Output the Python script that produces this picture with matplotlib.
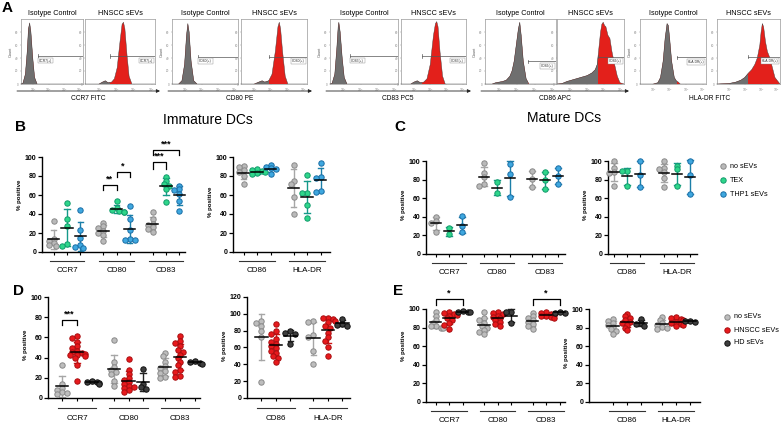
import numpy as np
import matplotlib
matplotlib.use("Agg")
import matplotlib.pyplot as plt
from matplotlib.patches import Rectangle
from matplotlib import transforms

plt.rcParams['font.family'] = ['Liberation Sans', 'DejaVu Sans']

# ---------------- Panel A data (flow cytometry histograms, fraction of axis) ----------------
A_markers = ["CCR7", "CD80", "CD83", "CD86", "HLA-DR"]
A_channels = ["CCR7 FITC", "CD80 PE", "CD83 PC5", "CD86 APC", "HLA-DR FITC"]

iso_x = [
    [0.0, 0.03, 0.07, 0.10, 0.12, 0.14, 0.16, 0.19, 0.22, 0.26, 1.0],
    [0.0, 0.10, 0.15, 0.19, 0.22, 0.24, 0.26, 0.29, 0.33, 0.38, 1.0],
    [0.0, 0.03, 0.07, 0.10, 0.12, 0.13, 0.15, 0.18, 0.21, 0.25, 1.0],
    [0.0, 0.10, 0.15, 0.20, 0.25, 0.30, 0.35, 0.38, 0.41, 0.44, 0.47, 0.49, 0.51, 0.54, 0.58, 0.62, 1.0],
    [0.0, 0.20, 0.27, 0.31, 0.35, 0.38, 0.41, 0.43, 0.45, 0.48, 0.52, 0.55, 0.58, 0.61, 1.0],
]
iso_y = [
    [0, 0.01, 0.15, 0.50, 0.85, 0.94, 0.80, 0.40, 0.10, 0.0, 0],
    [0, 0.0, 0.05, 0.30, 0.75, 0.93, 0.80, 0.35, 0.05, 0.0, 0],
    [0, 0.01, 0.15, 0.55, 0.88, 0.95, 0.80, 0.40, 0.10, 0.0, 0],
    [0, 0.0, 0.02, 0.03, 0.04, 0.06, 0.12, 0.20, 0.35, 0.60, 0.85, 0.95, 0.75, 0.35, 0.08, 0.0, 0],
    [0, 0.0, 0.02, 0.10, 0.35, 0.70, 0.93, 0.90, 0.70, 0.35, 0.10, 0.05, 0.03, 0.0, 0],
]
sev_x = [
    [0.0, 0.20, 0.25, 0.29, 0.33, 0.38, 0.42, 0.46, 0.50, 0.53, 0.55, 0.57, 0.60, 0.63, 0.67, 1.0],
    [0.0, 0.20, 0.27, 0.32, 0.36, 0.42, 0.47, 0.52, 0.56, 0.58, 0.60, 0.63, 0.67, 0.71, 1.0],
    [0.0, 0.15, 0.20, 0.25, 0.30, 0.35, 0.40, 0.45, 0.50, 0.53, 0.55, 0.57, 0.60, 0.64, 0.68, 1.0],
    [0.0, 0.08, 0.15, 0.25, 0.35, 0.45, 0.52, 0.57, 0.60, 0.62, 0.65, 0.67, 0.69, 0.71, 0.73, 0.76, 0.79, 0.82, 0.86, 0.90, 0.94, 1.0],
    [0.0, 0.20, 0.30, 0.38, 0.44, 0.50, 0.55, 0.60, 0.64, 0.68, 0.70, 0.72, 0.74, 0.77, 0.80, 0.84, 0.88, 0.92, 0.96, 1.0],
]
sev_y = [
    [0, 0.0, 0.03, 0.05, 0.02, 0.03, 0.08, 0.25, 0.65, 0.92, 0.95, 0.85, 0.45, 0.12, 0.0, 0],
    [0, 0.0, 0.03, 0.05, 0.03, 0.05, 0.15, 0.50, 0.88, 0.95, 0.85, 0.50, 0.12, 0.0, 0],
    [0, 0.0, 0.03, 0.05, 0.02, 0.03, 0.08, 0.30, 0.75, 0.93, 0.96, 0.88, 0.50, 0.12, 0.0, 0],
    [0, 0.01, 0.04, 0.07, 0.10, 0.13, 0.17, 0.22, 0.30, 0.50, 0.80, 0.92, 0.95, 0.90, 0.88, 0.75, 0.70, 0.50, 0.30, 0.12, 0.02, 0],
    [0, 0.01, 0.03, 0.06, 0.10, 0.17, 0.22, 0.30, 0.40, 0.60, 0.80, 0.93, 0.88, 0.65, 0.50, 0.40, 0.25, 0.10, 0.05, 0],
]
iso_gate = [0.27, 0.39, 0.29, 0.60, 0.56]
sev_gate = [0.36, 0.42, 0.32, 0.61, 0.49]
iso_gate_lvl = [0.43, 0.42, 0.43, 0.35, 0.41]
sev_gate_lvl = [0.43, 0.42, 0.43, 0.42, 0.42]
iso_label_left = [True, True, True, False, False]

# ---------------- Panels B/C data (% positive) ----------------
imm_groups = ["no sEVs", "TEX", "THP1 sEVs"]
imm_CCR7 = [[33, 14, 12, 9, 7, 6], [52, 35, 27, 8, 6], [44, 23, 15, 7, 5, 4]]
imm_CD80 = [[31, 27, 25, 22, 20, 18, 12], [54, 46, 44, 43, 42, 42], [48, 35, 23, 14, 13, 13]]
imm_CD83 = [[42, 35, 30, 28, 26, 24, 21], [79, 75, 72, 70, 66, 53], [70, 66, 65, 61, 54, 43]]
imm_CD86 = [[91, 89, 86, 84, 80, 72], [87, 86, 85, 84, 83, 82], [92, 90, 88, 87, 82]]
imm_HLADR = [[92, 75, 72, 58, 40], [81, 62, 62, 49, 36], [94, 79, 78, 64, 63]]

mat_CCR7 = [[40, 35, 33, 24], [28, 21], [41, 30, 24]]
mat_CD80 = [[98, 87, 83, 75, 73], [77, 66], [97, 86, 61]]
mat_CD83 = [[89, 81, 72], [88, 80, 70], [92, 84, 75]]
mat_CD86 = [[100, 93, 88, 87, 73], [89, 89, 73], [100, 85, 72]]
mat_HLADR = [[100, 92, 91, 88, 82, 72], [95, 91, 73], [100, 85, 64]]

# ---------------- Panels D/E data (% positive) ----------------
hn_groups = ["no sEVs", "HNSCC sEVs", "HD sEVs"]
immD_CCR7 = [[33, 14, 10, 8, 6, 5, 4], [61, 59, 55, 51, 50, 47, 46, 45, 44, 43, 43, 42, 40, 33, 17], [17, 16, 16, 15, 14]]
immD_CD80 = [[57, 36, 31, 28, 26, 24, 17, 12], [39, 28, 24, 20, 18, 16, 14, 12, 11, 10, 8, 6], [29, 14, 11, 9]]
immD_CD83 = [[45, 42, 36, 32, 30, 27, 25, 21, 20], [61, 56, 54, 51, 48, 46, 43, 40, 36, 33, 28, 26, 22, 21], [37, 36, 35, 34]]
immD_CD86 = [[91, 89, 86, 80, 72, 19], [88, 79, 76, 70, 67, 64, 62, 59, 56, 54, 50, 47, 43], [79, 77, 76, 64]]
immD_HLADR = [[91, 90, 75, 72, 56, 40], [95, 95, 94, 92, 90, 86, 83, 77, 72, 68, 60, 50], [94, 88, 87, 86]]

matE_CCR7 = [[97, 93, 88, 85, 82, 82, 80, 80], [97, 96, 95, 94, 93, 90, 88, 85, 83, 79], [98, 97, 97, 97]]
matE_CD80 = [[97, 90, 88, 85, 82, 80, 77, 75, 73], [97, 96, 95, 93, 91, 90, 88, 86, 84, 82], [97, 97, 85]]
matE_CD83 = [[96, 92, 90, 88, 86, 84, 82, 79], [97, 96, 95, 94, 93, 92, 91, 90], [96, 96, 97]]
matE_CD86 = [[89, 87, 85, 83, 81, 78, 76, 73], [95, 92, 90, 88, 86, 85, 83, 80, 77], [89, 85, 84, 82]]
matE_HLADR = [[91, 88, 85, 83, 81, 80, 79], [91, 90, 89, 88, 86, 85, 84, 83, 82], [87, 87, 86]]

# significance brackets: (marker index, group i, group j, top, leg bottom, label)
B_brackets = [(1, 0, 1, 70.5, 65, "**"), (1, 1, 2, 84, 79, "*"),
              (2, 0, 1, 95, 87, "***"), (2, 0, 2, 107, 102, "***")]
D_brackets = [(0, 0, 1, 77, 72, "***")]
E_brackets = [(0, 0, 2, 111, 104.5, "*"), (2, 0, 2, 111, 104.5, "*")]

# ---------------- styles ----------------
W, H = 783, 424
fig = plt.figure(figsize=(W / 100, H / 100), dpi=100)

pal_imm = [dict(fc="#b9b9b9", ec="#8a8a8a", err="#a6a6a6"),
           dict(fc="#2ed68a", ec="#129a6c", err="#15998a"),
           dict(fc="#3ea7df", ec="#1a6ea6", err="#1b7fa8")]
pal_hn = [dict(fc="#bdbdbd", ec="#8a8a8a", err="#a6a6a6"),
          dict(fc="#e8191c", ec="#a80d10", err="#d01414"),
          dict(fc="#3d3d3d", ec="#111111", err="#222222")]
HIST_GREY = "#6f6f6f"
HIST_RED = "#e3201b"


def add_ax(x0, y0, x1, y1):
    ax = fig.add_axes([x0 / W, 1 - y1 / H, (x1 - x0) / W, (y1 - y0) / H])
    ax.patch.set_alpha(0)
    return ax


# ---------------- Panel A ----------------
A_boxes = [((21, 83), (85, 155)), ((172, 238), (241, 307)), ((330, 398), (401, 466)),
           ((485, 556), (557, 624)), ((640, 706), (717, 780))]
BOX_TOP, BOX_BOT = 19, 84


def hist_box(x0, x1, xs, ys, gate, lvl, label, label_left, count_label):
    ax = add_ax(x0, BOX_TOP, x1, BOX_BOT)
    ax.set_xlim(0, 1)
    ax.set_ylim(0, 1)
    red = ax.fill(xs, ys, color=HIST_RED, lw=0, zorder=2)[0]
    grey = ax.fill(xs, ys, color=HIST_GREY, lw=0, zorder=3)[0]
    grey.set_clip_path(Rectangle((0, 0), gate, 1.2, transform=ax.transData))
    ax.plot(xs, ys, color="#3a3a3a", lw=0.3, zorder=4)
    ax.plot([gate, 1], [lvl, lvl], color="#555555", lw=0.5, zorder=5)
    ax.plot([gate, gate], [lvl - 0.025, lvl + 0.025], color="#555555", lw=0.5, zorder=5)
    bb = dict(boxstyle="square,pad=0.25", fc="white", ec="#888888", lw=0.3)
    if label_left:
        ax.text(gate + 0.02, lvl - 0.07, label + "(+)", fontsize=2.4, ha="left", va="center",
                color="#333333", bbox=bb, zorder=6)
    else:
        ax.text(0.97, lvl - 0.07, label + "(+)", fontsize=2.4, ha="right", va="center",
                color="#333333", bbox=bb, zorder=6)
    for s in ax.spines.values():
        s.set_color("#999999")
        s.set_linewidth(0.5)
    ax.set_yticks([0, 0.2, 0.4, 0.6, 0.8])
    ax.set_yticklabels(["0", "20", "40", "60", "80"], fontsize=2.2, color="#777777")
    ax.set_xticks([0.2, 0.45, 0.7, 0.95])
    ax.set_xticklabels([r"$10^2$", r"$10^3$", r"$10^4$", r"$10^5$"], fontsize=2.2, color="#777777")
    ax.tick_params(length=1, width=0.3, pad=0.8, colors="#888888")
    if count_label:
        ax.set_ylabel("Count", fontsize=2.8, color="#555555", labelpad=1.5)


for k in range(5):
    (ix0, ix1), (sx0, sx1) = A_boxes[k]
    hist_box(ix0, ix1, iso_x[k], iso_y[k], iso_gate[k], iso_gate_lvl[k], A_markers[k],
             iso_label_left[k], True)
    hist_box(sx0, sx1, sev_x[k], sev_y[k], sev_gate[k], sev_gate_lvl[k], A_markers[k],
             False, False)

# ---------------- Dot plot panels ----------------


def swarm_offsets(vals, ppu, diam):
    vals = np.asarray(vals, float)
    placed = []
    offs = np.zeros(len(vals))
    for idx in np.argsort(-vals, kind="stable"):
        yv = vals[idx] * ppu
        for k in [0, -1, 1, -2, 2, -3, 3]:
            xo = k * diam * 0.5
            if all((xo - px) ** 2 + (yv - py) ** 2 >= (diam * 0.72) ** 2 for px, py in placed):
                break
        placed.append((xo, yv))
        offs[idx] = xo
    return offs


def dot_panel(L, R, y0, ppu, ymax, ytop, ystep, c0, d, g, markers, data, pal,
              brackets=(), line_off=9, label_off=18):
    top = y0 - ppu * ymax
    ax = add_ax(L, top, R, y0)
    ax.set_ylim(0, ymax)
    ax.set_xlim((L - c0) / d, (R - c0) / d)
    G = g / d
    ticks = []
    diam = 5.0
    for mi, (mk, groups) in enumerate(zip(markers, data)):
        for gi, vals in enumerate(groups):
            pos = mi * G + (gi - 1)
            ticks.append(pos)
            vals = np.asarray(vals, float)
            offs = swarm_offsets(vals, ppu, diam) / d
            m = vals.mean()
            sd = vals.std(ddof=1) if len(vals) > 1 else 0
            c = pal[gi]
            ax.plot([pos, pos], [m - sd, m + sd], color=c["err"], lw=1.0, zorder=2, clip_on=False)
            for yy in (m - sd, m + sd):
                ax.plot([pos - 0.2, pos + 0.2], [yy, yy], color=c["err"], lw=1.0, zorder=2, clip_on=False)
            ax.scatter(pos + offs, vals, s=15, c=c["fc"], edgecolors=c["ec"], linewidths=0.7,
                       zorder=3, clip_on=False)
            ax.plot([pos - 0.42, pos + 0.42], [m, m], color="black", lw=1.1, zorder=4, clip_on=False)
        tr_l = ax.get_xaxis_transform() + transforms.ScaledTranslation(0, -line_off / 100, fig.dpi_scale_trans)
        tr_t = ax.get_xaxis_transform() + transforms.ScaledTranslation(0, -label_off / 100, fig.dpi_scale_trans)
        cx = mi * G
        ax.plot([cx - 1.3, cx + 1.3], [0, 0], color="#333333", lw=0.8, transform=tr_l, clip_on=False)
        ax.text(cx, 0, mk, transform=tr_t, fontsize=5.8, ha="center", va="center")
    for (mi, a, b, h, leg, lab) in brackets:
        xa = mi * G + (a - 1)
        xb = mi * G + (b - 1)
        ax.plot([xa, xa, xb, xb], [leg, h, h, leg], color="black", lw=0.9, clip_on=False)
        ax.text((xa + xb) / 2, h + 1.5, lab, fontsize=6.5, fontweight="bold", ha="center",
                va="bottom", clip_on=False)
    ax.spines["top"].set_visible(False)
    ax.spines["right"].set_visible(False)
    ax.spines["left"].set_bounds(0, ytop)
    for s in ("left", "bottom"):
        ax.spines[s].set_linewidth(1.0)
    ax.set_yticks(np.arange(0, ytop + 0.1, ystep))
    ax.set_xticks(ticks)
    ax.set_xticklabels([])
    ax.tick_params(axis="y", length=3, width=0.9, labelsize=5, pad=1)
    ax.tick_params(axis="x", length=2.5, width=0.8)
    for t in ax.get_yticklabels():
        t.set_fontweight("bold")
    ax.set_ylabel("% positive", fontsize=4.4, fontweight="bold", labelpad=2)
    return ax


# B
dot_panel(42, 185, 252, 0.95, 120, 100, 20, 67, 13.3, 49.5, ["CCR7", "CD80", "CD83"],
          [imm_CCR7, imm_CD80, imm_CD83], pal_imm, B_brackets)
dot_panel(233, 330, 252, 0.95, 105, 100, 20, 257, 13.5, 50, ["CD86", "HLA-DR"],
          [imm_CD86, imm_HLADR], pal_imm)
# C
dot_panel(426, 565, 254, 0.93, 105, 100, 20, 449, 13.0, 48, ["CCR7", "CD80", "CD83"],
          [mat_CCR7, mat_CD80, mat_CD83], pal_imm)
dot_panel(608, 697, 254, 0.93, 105, 100, 20, 627, 13.0, 50, ["CD86", "HLA-DR"],
          [mat_CD86, mat_HLADR], pal_imm)
# D
dot_panel(48, 200, 398, 1.01, 105, 100, 20, 77, 14.7, 51.5, ["CCR7", "CD80", "CD83"],
          [immD_CCR7, immD_CD80, immD_CD83], pal_hn, D_brackets, line_off=10, label_off=20)
dot_panel(247, 350, 398, 0.842, 124, 120, 20, 276, 14.5, 52, ["CD86", "HLA-DR"],
          [immD_CD86, immD_HLADR], pal_hn, line_off=10, label_off=20)
# E
dot_panel(426, 565, 402, 0.93, 120, 100, 20, 449, 13.5, 48.5, ["CCR7", "CD80", "CD83"],
          [matE_CCR7, matE_CD80, matE_CD83], pal_hn, E_brackets, line_off=9, label_off=18)
dot_panel(589, 700, 402, 0.93, 105, 100, 20, 627, 14.0, 49, ["CD86", "HLA-DR"],
          [matE_CD86, matE_HLADR], pal_hn, line_off=9, label_off=18)

# ---------------- overlay: letters, titles, arrows, legends ----------------
ov = fig.add_axes([0, 0, 1, 1])
ov.set_xlim(0, W)
ov.set_ylim(H, 0)
ov.axis("off")
ov.patch.set_alpha(0)

for k in range(5):
    (ix0, ix1), (sx0, sx1) = A_boxes[k]
    ov.text((ix0 + ix1) / 2, 13.5, "Isotype Control", fontsize=5.2, ha="center", va="center")
    ov.text((sx0 + sx1) / 2, 13.5, "HNSCC sEVs", fontsize=5.2, ha="center", va="center")
    ov.annotate("", xy=(sx1 + 5, 91), xytext=(ix0 - 4, 91),
                arrowprops=dict(arrowstyle="-|>", color="#222222", lw=0.6, mutation_scale=5,
                                shrinkA=0, shrinkB=0))
    ov.text((ix0 + sx1) / 2, 99, A_channels[k], fontsize=4.8, ha="center", va="center")

for lab, x, y in [("A", 7, 8), ("B", 20, 127), ("C", 400, 127), ("D", 18, 291), ("E", 398, 291)]:
    ov.text(x, y, lab, fontsize=11, fontweight="bold", ha="center", va="center")

ov.text(208, 120, "Immature DCs", fontsize=10, ha="center", va="center")
ov.text(564, 118, "Mature DCs", fontsize=10, ha="center", va="center")

for i, name in enumerate(imm_groups):
    y = 166 + 14 * i
    ov.scatter([723], [y], s=15, c=pal_imm[i]["fc"], edgecolors=pal_imm[i]["ec"], linewidths=0.7)
    ov.text(730, y, name, fontsize=5.2, ha="left", va="center")
for i, name in enumerate(hn_groups):
    y = 317 + 13 * i
    ov.scatter([727], [y], s=15, c=pal_hn[i]["fc"], edgecolors=pal_hn[i]["ec"], linewidths=0.7)
    ov.text(734, y, name, fontsize=5.2, ha="left", va="center")

fig.savefig("out.png", dpi=100)
